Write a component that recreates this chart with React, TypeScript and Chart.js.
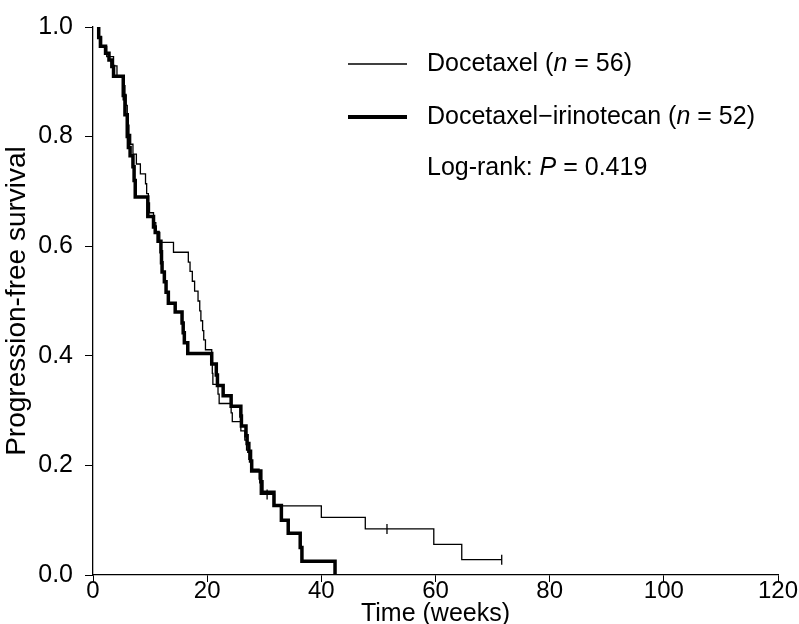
import React, { useEffect, useRef } from 'react';
import { Chart, registerables } from 'chart.js';

Chart.register(...registerables);

// ---- data ----
const xTickValues = [0, 20, 40, 60, 80, 100, 120];
const yTickValues = [0, 0.2, 0.4, 0.6, 0.8, 1.0];

const docWeeks = [0.9, 1.0, 1.5, 2.4, 3.6, 4.2, 5.4, 5.6, 5.8, 6.0, 6.1, 6.3, 6.6, 7.0, 7.6, 8.3, 9.2, 9.4, 9.7, 9.9, 10.6, 11.0, 11.7, 14.1, 16.7, 17.0, 17.4, 17.8, 18.4, 18.7, 18.9, 19.2, 19.4, 19.7, 20.8, 20.9, 21.0, 21.9, 22.1, 24.2, 24.4, 25.9, 26.6, 26.9, 27.3, 27.7, 29.1, 29.3, 31.8, 40.0, 47.7, 59.7, 64.6, 71.6];
const docSurv = [1.0, 0.982, 0.964, 0.946, 0.929, 0.911, 0.893, 0.875, 0.857, 0.839, 0.821, 0.804, 0.786, 0.768, 0.75, 0.732, 0.714, 0.696, 0.679, 0.661, 0.643, 0.625, 0.607, 0.589, 0.571, 0.554, 0.536, 0.518, 0.5, 0.482, 0.464, 0.446, 0.429, 0.411, 0.39, 0.368, 0.348, 0.33, 0.313, 0.296, 0.28, 0.263, 0.246, 0.228, 0.211, 0.193, 0.175, 0.147, 0.126, 0.105, 0.084, 0.056, 0.028, 0.028];
const docCensorWeeks = [30.5, 51.5, 71.6];
const docCensorSurv = [0.147, 0.084, 0.028];

const irinoWeeks = [0.9, 1.0, 1.3, 2.2, 2.8, 3.3, 3.6, 5.3, 5.6, 6.0, 6.2, 6.5, 7.0, 7.2, 7.4, 9.6, 10.6, 10.9, 11.4, 11.9, 12.0, 12.1, 12.5, 12.8, 13.2, 14.4, 15.6, 15.8, 16.0, 16.6, 20.8, 21.6, 21.8, 22.8, 24.2, 25.9, 26.0, 26.8, 27.0, 27.3, 27.6, 27.8, 29.4, 29.6, 31.7, 33.0, 34.2, 36.3, 36.6, 42.4];
const irinoSurv = [1.0, 0.981, 0.965, 0.952, 0.94, 0.928, 0.91, 0.875, 0.84, 0.8, 0.78, 0.765, 0.745, 0.72, 0.69, 0.654, 0.635, 0.625, 0.609, 0.59, 0.57, 0.553, 0.535, 0.516, 0.496, 0.48, 0.46, 0.442, 0.424, 0.404, 0.385, 0.365, 0.346, 0.327, 0.308, 0.29, 0.272, 0.254, 0.24, 0.226, 0.208, 0.19, 0.17, 0.151, 0.127, 0.1, 0.076, 0.05, 0.025, 0];
const irinoCensorWeeks = [5.3];
const irinoCensorSurv = [0.875];

const seriesNames = ['Docetaxel', 'Docetaxel\u2212irinotecan'];
const seriesN = ['56', '52'];
const logRankP = '0.419';
const xTitle = 'Time (weeks)';
const yTitle = 'Progression-free survival';

const FONT = '"Liberation Sans", Arial, Helvetica, sans-serif';

const toPts = (xs: number[], ys: number[]) => xs.map((x, i) => ({ x, y: ys[i] }));

const legendPlugin = {
  id: 'kmLegend',
  afterDraw(chart: any) {
    const ctx = chart.ctx as CanvasRenderingContext2D;
    ctx.save();
    ctx.fillStyle = '#000';
    ctx.strokeStyle = '#000';
    ctx.textBaseline = 'middle';
    const lineX0 = 348, lineX1 = 407, textX = 427;
    const rows = [64, 117];
    const widths = [1.3, 4];
    const drawParts = (parts: [string, boolean][], x: number, y: number) => {
      let cx = x;
      for (const [t, it] of parts) {
        ctx.font = `${it ? 'italic ' : ''}25px ${FONT}`;
        ctx.fillText(t, cx, y);
        cx += ctx.measureText(t).width;
      }
    };
    rows.forEach((y, i) => {
      ctx.lineWidth = widths[i];
      ctx.beginPath();
      ctx.moveTo(lineX0, y);
      ctx.lineTo(lineX1, y);
      ctx.stroke();
      drawParts([[seriesNames[i] + ' (', false], ['n', true], [' = ' + seriesN[i] + ')', false]], textX, y);
    });
    drawParts([['Log-rank: ', false], ['P', true], [' = ' + logRankP, false]], textX, 168);
    ctx.restore();
  },
};

export default function App() {
  const ref = useRef<HTMLCanvasElement>(null);
  useEffect(() => {
    document.body.style.margin = '0';
    const canvas = ref.current!;
    const chart = new Chart(canvas, {
      type: 'line',
      data: {
        datasets: [
          {
            label: seriesNames[0],
            data: toPts(docWeeks, docSurv),
            borderColor: '#000',
            borderWidth: 1.3,
            stepped: 'before',
            pointRadius: 0,
            fill: false,
          },
          {
            label: seriesNames[1],
            data: toPts(irinoWeeks, irinoSurv),
            borderColor: '#000',
            borderWidth: 3.5,
            stepped: 'before',
            pointRadius: 0,
            fill: false,
          },
          {
            label: 'censor1',
            data: toPts(docCensorWeeks, docCensorSurv),
            showLine: false,
            pointStyle: 'line',
            rotation: 90,
            pointRadius: 5,
            borderColor: '#000',
            borderWidth: 1.3,
          } as any,
          {
            label: 'censor2',
            data: toPts(irinoCensorWeeks, irinoCensorSurv),
            showLine: false,
            pointStyle: 'line',
            rotation: 90,
            pointRadius: 5,
            borderColor: '#000',
            borderWidth: 1.5,
          } as any,
        ],
      },
      options: {
        responsive: false,
        animation: false,
        devicePixelRatio: 1,
        layout: { padding: { top: 17, right: 21, bottom: 0, left: 0 } },
        plugins: { legend: { display: false }, tooltip: { enabled: false } },
        scales: {
          x: {
            type: 'linear',
            min: 0,
            max: 120,
            afterBuildTicks: (s: any) => { s.ticks = xTickValues.map((v) => ({ value: v })); },
            afterFit: (s: any) => { s.height = 49; },
            ticks: { color: '#000', font: { family: FONT, size: 24, lineHeight: 1 }, padding: -3, maxRotation: 0, callback: (v: any) => String(v) },
            grid: { display: true, drawOnChartArea: false, drawTicks: true, tickLength: 7, color: '#000', lineWidth: 1 },
            border: { display: true, color: '#000', width: 1.3 },
            title: { display: true, text: xTitle, color: '#000', font: { family: FONT, size: 25, lineHeight: 1.2 }, padding: { top: 0, bottom: -5 } },
          },
          y: {
            type: 'linear',
            min: 0,
            max: 1,
            afterBuildTicks: (s: any) => { s.ticks = yTickValues.map((v) => ({ value: v })); },
            afterFit: (s: any) => { s.width = 93; },
            ticks: { color: '#000', font: { family: FONT, size: 25 }, padding: 12, callback: (v: any) => Number(v).toFixed(1) },
            grid: { display: true, drawOnChartArea: false, drawTicks: true, tickLength: 8, color: '#000', lineWidth: 1 },
            border: { display: true, color: '#000', width: 1.3 },
            title: { display: true, text: yTitle, color: '#000', font: { family: FONT, size: 28, lineHeight: 1.2 }, padding: { top: 0, bottom: 0 } },
          },
        },
      },
      plugins: [legendPlugin],
    } as any);
    return () => chart.destroy();
  }, []);
  return (
    <div style={{ width: 799, height: 624 }}>
      <canvas ref={ref} width={799} height={624} style={{ display: 'block' }} />
    </div>
  );
}
